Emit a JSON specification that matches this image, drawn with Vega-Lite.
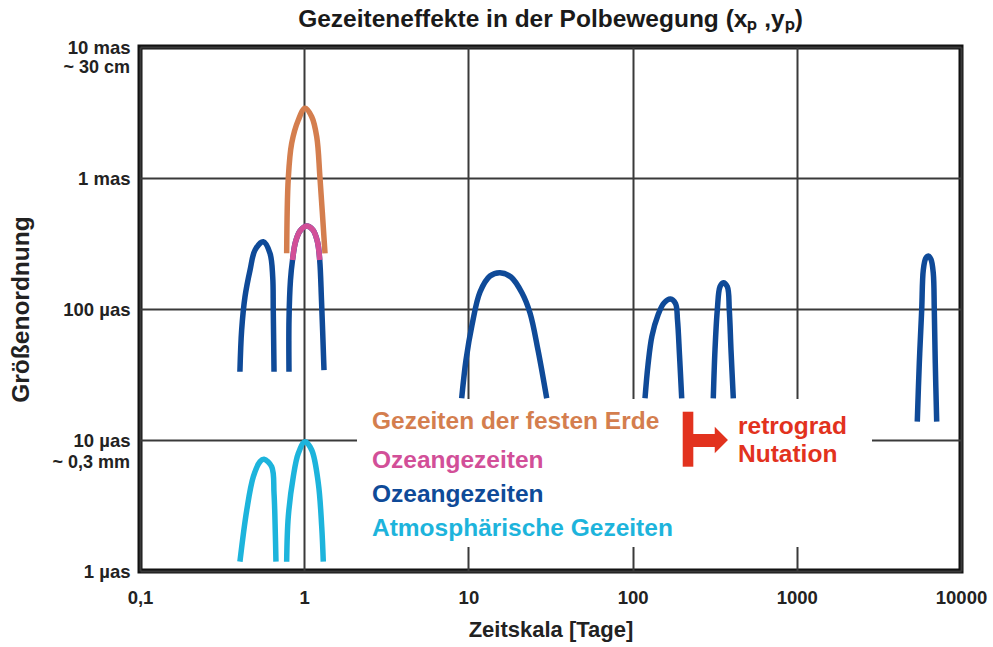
{
  "$schema": "https://vega.github.io/schema/vega-lite/v6.json",
  "width": 821,
  "height": 524,
  "autosize": "none",
  "padding": {"left": 140, "top": 47, "right": 32, "bottom": 76},
  "background": "white",
  "title": {"text": "Gezeiteneffekte in der Polbewegung (xₚ ,yₚ)", "fontSize": 24.5, "fontWeight": "bold", "color": "#1a1a1a", "offset": 6, "anchor": "middle"},
  "config": {
    "font": "Liberation Sans",
    "view": {"stroke": "#111111", "strokeWidth": 5},
    "axis": {"grid": true, "gridColor": "#3a3a3a", "gridWidth": 2, "gridOpacity": 1, "domain": false, "ticks": false, "labelFontSize": 18.5, "labelFontWeight": "bold", "labelColor": "#222222", "labelOverlap": false, "labelFlush": false, "titleFontWeight": "bold", "titleColor": "#222222"}
  },
  "encoding": {
    "x": {"field": "x", "type": "quantitative", "scale": {"type": "log", "domain": [0.1, 10000], "nice": false},
      "axis": {"values": [0.1, 1, 10, 100, 1000, 10000], "labelExpr": "datum.value < 0.5 ? '0,1' : format(datum.value, 'd')", "labelPadding": 17, "title": "Zeitskala [Tage]", "titleFontSize": 22, "titlePadding": 13}},
    "y": {"field": "y", "type": "quantitative", "scale": {"type": "log", "domain": [1, 10000], "nice": false},
      "axis": {"values": [1, 10, 100, 1000, 10000], "labelExpr": "datum.value >= 10000 ? '10 mas' : datum.value >= 1000 ? '1 mas' : datum.value >= 100 ? '100 µas' : datum.value >= 10 ? '10 µas' : '1 µas'", "labelPadding": 10, "title": "Größenordnung", "titleFontSize": 24.5, "titlePadding": 29}}
  },
  "layer": [
    {
      "data": {"values": [{"x": 2.097, "x2": 2871, "y": 1.524, "y2": 20.56}]},
      "mark": {"type": "rect", "color": "white"},
      "encoding": {"x2": {"field": "x2"}, "y2": {"field": "y2"}}
    },
    {
      "data": {"values": [
        {"c": "e1", "k": "erde", "i": 0, "x": 0.782, "y": 266},
        {"c": "e1", "k": "erde", "i": 1, "x": 0.800, "y": 995},
        {"c": "e1", "k": "erde", "i": 2, "x": 0.839, "y": 1840},
        {"c": "e1", "k": "erde", "i": 3, "x": 0.921, "y": 2772},
        {"c": "e1", "k": "erde", "i": 4, "x": 1.011, "y": 3405},
        {"c": "e1", "k": "erde", "i": 5, "x": 1.111, "y": 2938},
        {"c": "e1", "k": "erde", "i": 6, "x": 1.192, "y": 2067},
        {"c": "e1", "k": "erde", "i": 7, "x": 1.248, "y": 995},
        {"c": "e1", "k": "erde", "i": 8, "x": 1.339, "y": 266},

        {"c": "oA", "k": "ozean2", "i": 0, "x": 0.406, "y": 33.2},
        {"c": "oA", "k": "ozean2", "i": 1, "x": 0.416, "y": 69.1},
        {"c": "oA", "k": "ozean2", "i": 2, "x": 0.436, "y": 124},
        {"c": "oA", "k": "ozean2", "i": 3, "x": 0.468, "y": 198},
        {"c": "oA", "k": "ozean2", "i": 4, "x": 0.502, "y": 282},
        {"c": "oA", "k": "ozean2", "i": 5, "x": 0.563, "y": 326},
        {"c": "oA", "k": "ozean2", "i": 6, "x": 0.619, "y": 266},
        {"c": "oA", "k": "ozean2", "i": 7, "x": 0.643, "y": 176},
        {"c": "oA", "k": "ozean2", "i": 8, "x": 0.648, "y": 98.3},
        {"c": "oA", "k": "ozean2", "i": 9, "x": 0.655, "y": 33.2},

        {"c": "oB", "k": "ozean2", "i": 0, "x": 0.808, "y": 33.2},
        {"c": "oB", "k": "ozean2", "i": 1, "x": 0.808, "y": 82.4},
        {"c": "oB", "k": "ozean2", "i": 2, "x": 0.825, "y": 166.5},
        {"c": "oB", "k": "ozean2", "i": 3, "x": 0.849, "y": 236.6},
        {"c": "oB", "k": "ozean2", "i": 4, "x": 0.885, "y": 324.7},
        {"c": "oB", "k": "ozean2", "i": 5, "x": 0.943, "y": 393.9},
        {"c": "oB", "k": "ozean2", "i": 6, "x": 1.033, "y": 430.1},
        {"c": "oB", "k": "ozean2", "i": 7, "x": 1.131, "y": 401},
        {"c": "oB", "k": "ozean2", "i": 8, "x": 1.205, "y": 324.7},
        {"c": "oB", "k": "ozean2", "i": 9, "x": 1.243, "y": 236.6},
        {"c": "oB", "k": "ozean2", "i": 10, "x": 1.2745, "y": 117.1},
        {"c": "oB", "k": "ozean2", "i": 11, "x": 1.320, "y": 34.2},

        {"c": "a1", "k": "atmo", "i": 0, "x": 0.406, "y": 1.178},
        {"c": "a1", "k": "atmo", "i": 1, "x": 0.447, "y": 2.922},
        {"c": "a1", "k": "atmo", "i": 2, "x": 0.490, "y": 5.247},
        {"c": "a1", "k": "atmo", "i": 3, "x": 0.538, "y": 6.83},
        {"c": "a1", "k": "atmo", "i": 4, "x": 0.569, "y": 7.124},
        {"c": "a1", "k": "atmo", "i": 5, "x": 0.634, "y": 6.254},
        {"c": "a1", "k": "atmo", "i": 6, "x": 0.655, "y": 3.919},
        {"c": "a1", "k": "atmo", "i": 7, "x": 0.667, "y": 1.94},
        {"c": "a1", "k": "atmo", "i": 8, "x": 0.673, "y": 1.178},

        {"c": "a2", "k": "atmo", "i": 0, "x": 0.782, "y": 1.178},
        {"c": "a2", "k": "atmo", "i": 1, "x": 0.800, "y": 2.597},
        {"c": "a2", "k": "atmo", "i": 2, "x": 0.858, "y": 5.247},
        {"c": "a2", "k": "atmo", "i": 3, "x": 0.921, "y": 7.915},
        {"c": "a2", "k": "atmo", "i": 4, "x": 1.011, "y": 9.705},
        {"c": "a2", "k": "atmo", "i": 5, "x": 1.111, "y": 8.389},
        {"c": "a2", "k": "atmo", "i": 6, "x": 1.219, "y": 4.672},
        {"c": "a2", "k": "atmo", "i": 7, "x": 1.2785, "y": 2.179},
        {"c": "a2", "k": "atmo", "i": 8, "x": 1.307, "y": 1.178},

        {"c": "oD", "k": "ozean2", "i": 0, "x": 9.10, "y": 20.8},
        {"c": "oD", "k": "ozean2", "i": 1, "x": 9.67, "y": 40.8},
        {"c": "oD", "k": "ozean2", "i": 2, "x": 10.52, "y": 75.5},
        {"c": "oD", "k": "ozean2", "i": 3, "x": 11.77, "y": 134.8},
        {"c": "oD", "k": "ozean2", "i": 4, "x": 13.54, "y": 178.6},
        {"c": "oD", "k": "ozean2", "i": 5, "x": 15.57, "y": 189.3},
        {"c": "oD", "k": "ozean2", "i": 6, "x": 18.17, "y": 175.5},
        {"c": "oD", "k": "ozean2", "i": 7, "x": 21.21, "y": 132.5},
        {"c": "oD", "k": "ozean2", "i": 8, "x": 23.73, "y": 93.2},
        {"c": "oD", "k": "ozean2", "i": 9, "x": 26.54, "y": 48.6},
        {"c": "oD", "k": "ozean2", "i": 10, "x": 29.99, "y": 20.8},

        {"c": "oE", "k": "ozean2", "i": 0, "x": 119.0, "y": 20.8},
        {"c": "oE", "k": "ozean2", "i": 1, "x": 124.1, "y": 37.4},
        {"c": "oE", "k": "ozean2", "i": 2, "x": 131.2, "y": 62.2},
        {"c": "oE", "k": "ozean2", "i": 3, "x": 142.8, "y": 90.0},
        {"c": "oE", "k": "ozean2", "i": 4, "x": 155.3, "y": 111.1},
        {"c": "oE", "k": "ozean2", "i": 5, "x": 170.1, "y": 119.2},
        {"c": "oE", "k": "ozean2", "i": 6, "x": 182.5, "y": 110.2},
        {"c": "oE", "k": "ozean2", "i": 7, "x": 187.7, "y": 82.4},
        {"c": "oE", "k": "ozean2", "i": 8, "x": 193.0, "y": 44.6},
        {"c": "oE", "k": "ozean2", "i": 9, "x": 199.1, "y": 20.8},

        {"c": "oF", "k": "ozean2", "i": 0, "x": 310.0, "y": 20.8},
        {"c": "oF", "k": "ozean2", "i": 1, "x": 317.5, "y": 48.6},
        {"c": "oF", "k": "ozean2", "i": 2, "x": 328.0, "y": 98.3},
        {"c": "oF", "k": "ozean2", "i": 3, "x": 340.7, "y": 148.0},
        {"c": "oF", "k": "ozean2", "i": 4, "x": 356.8, "y": 158.8},
        {"c": "oF", "k": "ozean2", "i": 5, "x": 377.4, "y": 148.0},
        {"c": "oF", "k": "ozean2", "i": 6, "x": 388.1, "y": 98.3},
        {"c": "oF", "k": "ozean2", "i": 7, "x": 397.5, "y": 48.6},
        {"c": "oF", "k": "ozean2", "i": 8, "x": 410.5, "y": 20.8},

        {"c": "oG", "k": "ozean2", "i": 0, "x": 5417, "y": 13.8},
        {"c": "oG", "k": "ozean2", "i": 1, "x": 5572, "y": 38.5},
        {"c": "oG", "k": "ozean2", "i": 2, "x": 5763, "y": 98.3},
        {"c": "oG", "k": "ozean2", "i": 3, "x": 5894, "y": 198.5},
        {"c": "oG", "k": "ozean2", "i": 4, "x": 6095, "y": 243.8},
        {"c": "oG", "k": "ozean2", "i": 5, "x": 6321, "y": 253.9},
        {"c": "oG", "k": "ozean2", "i": 6, "x": 6565, "y": 239.5},
        {"c": "oG", "k": "ozean2", "i": 7, "x": 6780, "y": 187.3},
        {"c": "oG", "k": "ozean2", "i": 8, "x": 6876, "y": 98.3},
        {"c": "oG", "k": "ozean2", "i": 9, "x": 6973, "y": 38.5},
        {"c": "oG", "k": "ozean2", "i": 10, "x": 7112, "y": 13.8}
      ]},
      "mark": {"type": "line", "strokeWidth": 5.5, "strokeCap": "butt", "interpolate": "catmull-rom"},
      "encoding": {
        "detail": {"field": "c"},
        "order": {"field": "i", "type": "quantitative"},
        "color": {"field": "k", "type": "nominal", "legend": null, "scale": {"domain": ["erde", "ozean1", "ozean2", "atmo", "retro"], "range": ["#D47E4E", "#D24F98", "#0F4A98", "#1DB4DC", "#E2321E"]}}
      }
    },
    {
      "data": {"values": [
        {"c": "p1", "k": "ozean1", "i": 0, "x": 0.849, "y": 236.6},
        {"c": "p1", "k": "ozean1", "i": 1, "x": 0.885, "y": 324.7},
        {"c": "p1", "k": "ozean1", "i": 2, "x": 0.943, "y": 393.9},
        {"c": "p1", "k": "ozean1", "i": 3, "x": 1.033, "y": 430.1},
        {"c": "p1", "k": "ozean1", "i": 4, "x": 1.131, "y": 401},
        {"c": "p1", "k": "ozean1", "i": 5, "x": 1.205, "y": 324.7},
        {"c": "p1", "k": "ozean1", "i": 6, "x": 1.243, "y": 236.6}
      ]},
      "mark": {"type": "line", "strokeWidth": 5.5, "strokeCap": "butt", "interpolate": "catmull-rom"},
      "encoding": {
        "detail": {"field": "c"},
        "order": {"field": "i", "type": "quantitative"},
        "color": {"field": "k", "type": "nominal", "legend": null}
      }
    },
    {
      "data": {"values": [
        {"x": 201.9, "x2": 234.3, "y": 6.254, "y2": 16.44},
        {"x": 230.0, "x2": 322.0, "y": 8.84, "y2": 11.11}
      ]},
      "mark": {"type": "rect", "color": "#E2321E"},
      "encoding": {"x2": {"field": "x2"}, "y2": {"field": "y2"}}
    },
    {
      "data": {"values": [{"x": 340.7, "y": 10}]},
      "mark": {"type": "point", "shape": "M -0.4 -1 L 0.6 0 L -0.4 1 Z", "size": 700, "filled": true, "color": "#E2321E", "opacity": 1, "strokeWidth": 0}
    },
    {
      "data": {"values": [
        {"k": "erde", "t": "Gezeiten der festen Erde", "x": 2.587, "y": 13.72},
        {"k": "ozean1", "t": "Ozeangezeiten", "x": 2.587, "y": 6.914},
        {"k": "ozean2", "t": "Ozeangezeiten", "x": 2.587, "y": 3.804},
        {"k": "atmo", "t": "Atmosphärische Gezeiten", "x": 2.587, "y": 2.092},
        {"k": "retro", "t": "retrograd", "x": 438.5, "y": 12.57},
        {"k": "retro", "t": "Nutation", "x": 438.5, "y": 7.685}
      ]},
      "mark": {"type": "text", "align": "left", "baseline": "middle", "fontSize": 24.5, "fontWeight": "bold"},
      "encoding": {
        "text": {"field": "t"},
        "color": {"field": "k", "type": "nominal", "legend": null}
      }
    },
    {
      "data": {"values": [
        {"x": 0.1, "y": 6854, "t": "~ 30 cm"},
        {"x": 0.1, "y": 6.673, "t": "~ 0,3 mm"}
      ]},
      "mark": {"type": "text", "align": "right", "baseline": "middle", "dx": -10, "fontSize": 18, "fontWeight": "bold", "color": "#222222"},
      "encoding": {"text": {"field": "t"}}
    }
  ]
}
